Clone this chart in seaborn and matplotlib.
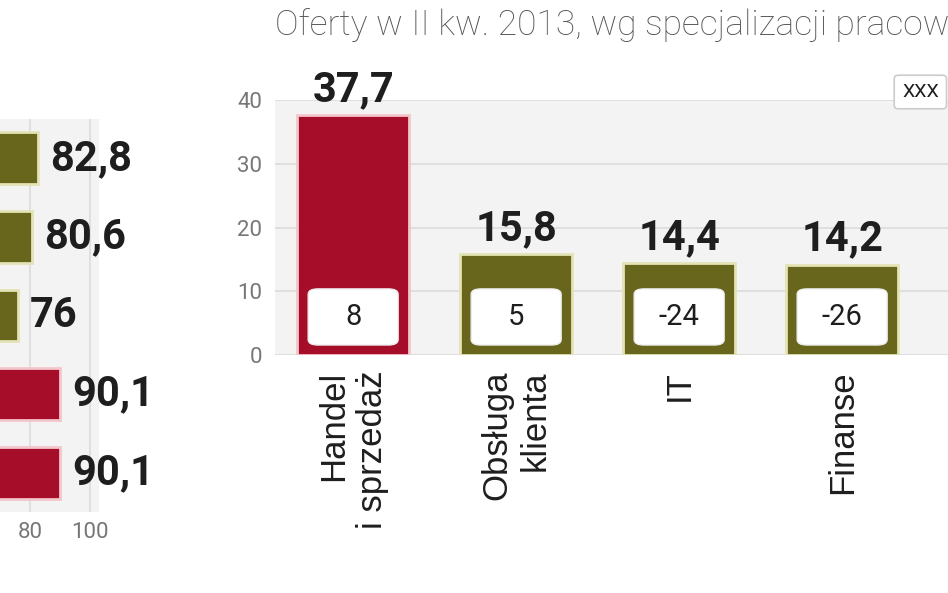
import matplotlib
matplotlib.use("Agg")
import matplotlib.pyplot as plt
import seaborn as sns
import pandas as pd
from matplotlib.patches import FancyBboxPatch

# DATA ------------------------------------------------------------
left_labels = ["k1", "k2", "k3", "k4", "k5"]
left_values = [82.8, 80.6, 76, 90.1, 90.1]
left_colors = ["olive", "olive", "olive", "red", "red"]

right_labels = ["Handel\ni sprzedaż", "Obsługa\nklienta", "IT", "Finanse"]
right_values = [37.7, 15.8, 14.4, 14.2]
right_change = ["8", "5", "-24", "-26"]
right_colors = ["red", "olive", "olive", "olive"]

title = "Oferty w II kw. 2013, wg specjalizacji pracowników"
legend_text = "XXX"

# STYLE -----------------------------------------------------------
sns.set_theme(style="white")
plt.rcParams["font.family"] = ["Roboto", "DejaVu Sans"]

RED = "#a50d28"
OLIVE = "#68661c"
palette = {"red": RED, "olive": OLIVE}
edges = {"red": "#f3c6cb", "olive": "#e4e3b5"}
GRID = "#dcdcdc"
BG = "#f3f3f3"
DARK = "#1e1e1e"
TICK = "#777777"


def fmt(v):
    if float(v).is_integer():
        return str(int(v))
    return f"{v:.1f}".replace(".", ",")


fig = plt.figure(figsize=(9.48, 5.93), dpi=100)
fig.patch.set_facecolor("white")

# LEFT: horizontal bars (cropped) -------------------------------------
left_df = pd.DataFrame({"cat": left_labels, "val": left_values, "col": left_colors})
ax1 = fig.add_axes([-0.2215, 0.1366, 0.326, 0.6627])
ax1.set_facecolor(BG)
sns.barplot(data=left_df, x="val", y="cat", hue="col", palette=palette,
            saturation=1, width=0.66, legend=False, ax=ax1, zorder=3)
for p, c, v in zip(sorted(ax1.patches, key=lambda r: r.get_y()), left_colors, left_values):
    p.set_edgecolor(edges[c])
    p.set_linewidth(2)
    ax1.text(p.get_width() + 4, p.get_y() + p.get_height() / 2, fmt(v),
             ha="left", va="center", fontsize=30, fontweight="bold", color=DARK,
             clip_on=False, zorder=5)
ax1.set_xlim(0, 103)
ax1.set_ylim(4.5, -0.5)
ax1.set_xticks([80, 100])
ax1.xaxis.grid(True, color=GRID, linewidth=1.2, zorder=0)
ax1.set_yticks([])
ax1.set_xlabel("")
ax1.set_ylabel("")
ax1.tick_params(axis="x", length=0, pad=7, labelsize=16, labelcolor=TICK)
sns.despine(ax=ax1, left=True, bottom=True)

# RIGHT: vertical bars ----------------------------------------------
right_df = pd.DataFrame({"cat": right_labels, "val": right_values, "col": right_colors})
ax2 = fig.add_axes([0.290, 0.401, 0.870, 0.430])
ax2.set_facecolor(BG)
sns.barplot(data=right_df, x="cat", y="val", hue="col", palette=palette,
            saturation=1, width=0.69, legend=False, ax=ax2, zorder=3)
bars = sorted(ax2.patches, key=lambda r: r.get_x())
for p, c, v, ch in zip(bars, right_colors, right_values, right_change):
    p.set_edgecolor(edges[c])
    p.set_linewidth(2)
    cx = p.get_x() + p.get_width() / 2
    ax2.text(cx, v + 0.8, fmt(v), ha="center", va="bottom", fontsize=30,
             fontweight="bold", color=DARK, clip_on=False, zorder=5)
    w = p.get_width()
    box = FancyBboxPatch((p.get_x() + 0.1 * w, 1.6), 0.8 * w, 8.8,
                         boxstyle="round,pad=0,rounding_size=0.06",
                         mutation_aspect=14, facecolor="white",
                         edgecolor="#eeeeee", linewidth=1, zorder=4)
    ax2.add_patch(box)
    ax2.text(cx, 6.0, ch, ha="center", va="center", fontsize=21,
             color=DARK, zorder=5)
ax2.set_ylim(0, 40)
ax2.set_xlim(-0.48, 4.58)
ax2.set_yticks([0, 10, 20, 30, 40])
ax2.yaxis.grid(True, color=GRID, linewidth=1.2, zorder=0)
ax2.set_xlabel("")
ax2.set_ylabel("")
ax2.set_xticks(range(len(right_labels)))
ax2.set_xticklabels(right_labels, rotation=90, ha="center", va="top",
                    multialignment="right", fontsize=25, color=DARK,
                    family=["Liberation Sans", "DejaVu Sans"])
ax2.tick_params(axis="x", length=0, pad=11)
ax2.tick_params(axis="y", length=0, pad=9, labelsize=16, labelcolor=TICK)
sns.despine(ax=ax2, left=True, bottom=True)

# TITLE / LEGEND ----------------------------------------------------
fig.text(275 / 948, 1 - 25 / 593, title, ha="left", va="center",
         fontsize=25.5, fontweight="light", color="#555555")
fig.text(902 / 948, 1 - 92 / 593, legend_text, ha="left", va="center",
         fontsize=14, color=DARK,
         bbox=dict(boxstyle="round,pad=0.4,rounding_size=0.2",
                   facecolor="white", edgecolor="#cccccc", linewidth=1.2))

plt.savefig("out.png", dpi=100)
